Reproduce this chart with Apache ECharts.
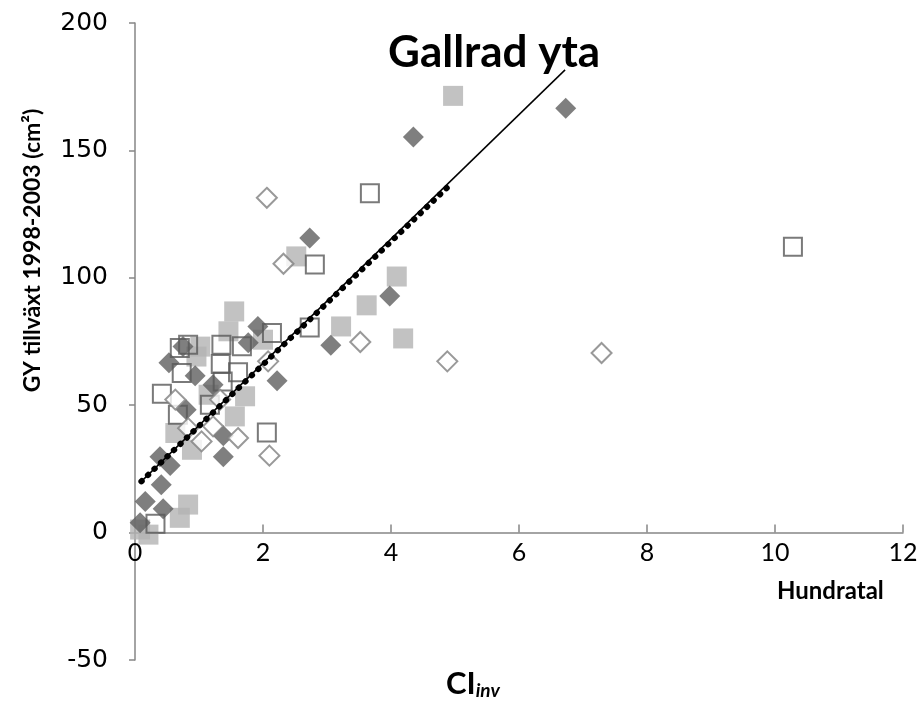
<!DOCTYPE html>
<html>
<head>
<meta charset="utf-8">
<script src="https://cdn.jsdelivr.net/npm/echarts@6/dist/echarts.min.js"></script>
<style>
  html, body { margin: 0; padding: 0; background: #fff; }
  #chart { width: 921px; height: 713px; }
</style>
</head>
<body>
<div id="chart"></div>
<script>
// punkter, [CIinv, tillväxt]
const darkDiamonds = [
  [6.73, 166.5], [4.35, 155.3], [2.73, 115.6], [3.98, 92.9], [3.06, 73.5],
  [1.92, 80.9], [1.77, 74.5], [2.22, 59.6], [0.53, 66.7], [0.94, 61.6],
  [0.75, 73.0], [1.22, 58.0], [0.80, 48.2], [1.38, 38.0], [1.38, 29.8],
  [0.39, 29.8], [0.55, 26.3], [0.41, 18.8], [0.16, 12.2], [0.44, 9.4],
  [0.08, 3.9]
];
const lightSquares = [
  [4.97, 171.4], [2.52, 108.4], [4.09, 100.5], [3.62, 89.2], [1.55, 86.8],
  [1.46, 79.0], [3.22, 80.9], [4.19, 76.2], [2.00, 75.7], [1.02, 73.0],
  [0.96, 69.1], [1.15, 54.1], [1.72, 53.5], [1.56, 45.6], [0.63, 39.1],
  [0.89, 32.5], [0.83, 11.0], [0.70, 5.8], [0.08, 1.2], [0.21, -0.8]
];
const openSquares = [
  [10.28, 112.2], [3.67, 133.2], [2.81, 105.2], [2.73, 80.5], [2.14, 78.3],
  [1.35, 73.7], [1.67, 73.1], [0.83, 73.7], [0.70, 72.4], [1.34, 66.2],
  [1.61, 62.9], [0.73, 62.6], [1.37, 59.3], [0.42, 54.5], [1.17, 50.2],
  [0.67, 46.3], [2.06, 39.3], [0.32, 3.5]
];
const openDiamonds = [
  [2.06, 131.4], [2.32, 105.5], [3.52, 74.8], [4.88, 67.2], [7.29, 70.5],
  [2.08, 67.2], [0.63, 52.2], [1.33, 52.2], [0.83, 41.0], [1.22, 41.7],
  [1.04, 35.8], [1.61, 37.1], [2.10, 30.2]
];
// trendlinjer, ändpunkter
const trendSolid = [[0.10, 20.1], [6.72, 181.6]];
const trendDotted = [[0.10, 20.1], [4.96, 137.4]];

const xTicks = [0, 2, 4, 6, 8, 10, 12];
const yTicks = [-50, 0, 50, 100, 150, 200];

const chart = echarts.init(document.getElementById('chart'));

// x-axeln ligger vid y = 0, dvs 50 enheter ovanför gridens nederkant
const gridTop = 23, gridBottom = 53;
const plotH = 713 - gridTop - gridBottom;
const zeroOffset = -plotH * (0 - yTicks[0]) / (yTicks[yTicks.length - 1] - yTicks[0]);

const option = {
  backgroundColor: '#ffffff',
  animation: false,
  grid: { left: 135, right: 18, top: gridTop, bottom: gridBottom },
  xAxis: {
    type: 'value',
    min: xTicks[0],
    max: xTicks[xTicks.length - 1],
    interval: 2,
    offset: zeroOffset,
    splitLine: { show: false },
    axisLine: { show: true, onZero: false, lineStyle: { color: '#868686', width: 1.5 } },
    axisTick: { show: true, inside: true, length: 8, lineStyle: { color: '#868686', width: 1.5 } },
    axisLabel: {
      color: '#000', fontFamily: 'Lato', fontSize: 25, margin: 8
    }
  },
  yAxis: {
    type: 'value',
    min: yTicks[0],
    max: yTicks[yTicks.length - 1],
    interval: 50,
    splitLine: { show: false },
    axisLine: { show: true, onZero: false, lineStyle: { color: '#868686', width: 1.5 } },
    axisTick: { show: true, length: 6, lineStyle: { color: '#868686', width: 1.5 } },
    axisLabel: {
      color: '#000', fontFamily: 'DejaVu Sans', fontSize: 25, margin: 27
    },
    name: 'GY tillväxt 1998-2003 (cm²)',
    nameLocation: 'middle',
    nameGap: 91,
    nameRotate: 90,
    nameTextStyle: {
      color: '#000', fontFamily: 'Lato', fontWeight: 'bold', fontSize: 23,
      padding: [0, 0, 0, 182]
    }
  },
  graphic: [
    {
      type: 'text', left: 388, top: 31,
      style: { text: 'Gallrad yta', fill: '#000', font: 'bold 44px Lato' }
    },
    {
      type: 'text', left: 777, top: 579,
      style: { text: 'Hundratal', fill: '#000', font: 'bold 24px Lato' }
    },
    {
      type: 'text', left: 446, top: 668,
      style: {
        text: '{a|CI}{b|inv}',
        rich: {
          a: { fill: '#000', font: 'bold 31px Lato' },
          b: { fill: '#000', font: 'italic bold 19px Lato', padding: [14, 0, 0, 0] }
        }
      }
    }
  ],
  series: [
    {
      type: 'scatter', data: lightSquares, symbol: 'rect', symbolSize: 20,
      itemStyle: { color: '#b3b3b3' }, z: 2
    },
    {
      type: 'scatter', data: darkDiamonds, symbol: 'diamond', symbolSize: 21,
      itemStyle: { color: '#5f5f5f' }, z: 3
    },
    {
      type: 'scatter', data: openSquares, symbol: 'rect', symbolSize: 18,
      itemStyle: { color: 'rgba(255,255,255,0)', borderColor: '#595959', borderWidth: 2 }, z: 4
    },
    {
      type: 'scatter', data: openDiamonds, symbol: 'diamond', symbolSize: 20,
      itemStyle: { color: '#ffffff', borderColor: '#808080', borderWidth: 2 }, z: 5
    },
    {
      type: 'line', data: trendDotted, symbol: 'none', z: 6,
      lineStyle: { color: '#000', width: 6, type: [0.5, 8.5], cap: 'round' }
    },
    {
      type: 'line', data: trendSolid, symbol: 'none', z: 7,
      lineStyle: { color: '#000', width: 1.5 }
    }
  ]
};

chart.setOption(option);
</script>
</body>
</html>
